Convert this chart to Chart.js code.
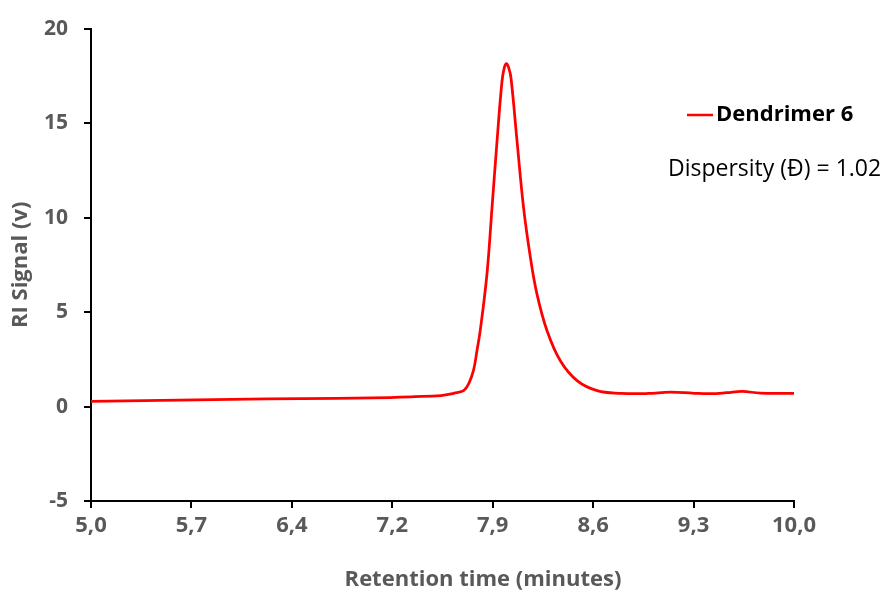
<!DOCTYPE html>
<html>
<head>
<meta charset="utf-8">
<script src="https://cdn.jsdelivr.net/npm/chart.js@4.4.1/dist/chart.umd.min.js"></script>
<style>
  html, body { margin: 0; padding: 0; background: #fff; }
  #wrap { width: 887px; height: 592px; }
</style>
</head>
<body>
<div id="wrap"><canvas id="chart" width="887" height="592"></canvas></div>
<script>
// GPC trace
const retentionTime = [5.0, 5.5, 6.0, 6.5, 7.0, 7.3, 7.49, 7.58, 7.65, 7.685, 7.72, 7.745, 7.768, 7.816,
  7.852, 7.888, 7.923, 7.94, 7.955, 7.97, 7.987, 8.03, 8.077, 8.125, 8.172, 8.244, 8.338, 8.457,
  8.6, 8.77, 8.96, 9.12, 9.29, 9.41, 9.52, 9.63, 9.76, 10.0];
const riSignal = [0.27, 0.33, 0.38, 0.42, 0.46, 0.52, 0.58, 0.7, 0.84, 1.19, 1.9, 2.95, 4.0, 7.0,
  10.5, 14.06, 17.2, 17.95, 18.15, 17.95, 17.4, 14.06, 10.5, 7.9, 5.95, 4.0, 2.42, 1.37,
  0.84, 0.7, 0.69, 0.76, 0.7, 0.68, 0.73, 0.8, 0.71, 0.7];

const xTickLabels = ["5,0", "5,7", "6,4", "7,2", "7,9", "8,6", "9,3", "10,0"];
const seriesName = "Dendrimer 6";
const note = "Dispersity (Đ) = 1.02";
const xTitle = "Retention time (minutes)";

const FONT = "'Open Sans', sans-serif";
const GREY = "#595959";

const xMin = 5, xMax = 10;

// legend, note and x title are drawn by hand, placed like the original
const labelsPlugin = {
  id: "insideLegend",
  afterDraw(chart) {
    const ctx = chart.ctx;
    ctx.save();
    ctx.strokeStyle = "#ff0000";
    ctx.lineWidth = 2.5;
    ctx.beginPath();
    ctx.moveTo(687, 115);
    ctx.lineTo(713, 115);
    ctx.stroke();
    ctx.fillStyle = "#000";
    ctx.textBaseline = "middle";
    ctx.font = "bold 22px " + FONT;
    ctx.fillText(seriesName, 716, 115);
    ctx.font = "23px " + FONT;
    ctx.fillText(note, 668, 169);

    ctx.fillStyle = GREY;
    ctx.font = "bold 22px " + FONT;
    ctx.textAlign = "center";
    ctx.fillText(xTitle, 483, 580);
    ctx.restore();
  }
};

new Chart(document.getElementById("chart"), {
  type: "line",
  data: {
    datasets: [{
      label: seriesName,
      data: retentionTime.map((t, i) => ({ x: t, y: riSignal[i] })),
      borderColor: "#ff0000",
      borderWidth: 2.75,
      pointRadius: 0,
      tension: 0.4,
      fill: false
    }]
  },
  options: {
    responsive: false,
    animation: false,
    layout: { padding: { top: 28, right: 93, left: 0, bottom: 0 } },
    plugins: { legend: { display: false }, tooltip: { enabled: false } },
    scales: {
      x: {
        type: "linear",
        min: xMin,
        max: xMax,
        afterBuildTicks(scale) {
          scale.ticks = xTickLabels.map((l, i) => ({ value: xMin + i * (xMax - xMin) / (xTickLabels.length - 1) }));
        },
        afterFit(scale) { scale.height = 91; },
        ticks: {
          color: GREY,
          font: { family: FONT, size: 22, weight: "bold" },
          padding: 5,
          maxRotation: 0,
          callback: (v, i) => xTickLabels[i]
        },
        grid: { drawOnChartArea: false, drawTicks: true, tickLength: 7, color: "#000", lineWidth: 2 },
        border: { color: "#000", width: 2 }
      },
      y: {
        min: -5,
        max: 20,
        ticks: {
          stepSize: 5,
          color: GREY,
          font: { family: FONT, size: 21, weight: "bold" },
          padding: 16
        },
        afterFit(scale) { scale.width = 91; },
        grid: { drawOnChartArea: false, drawTicks: true, tickLength: 7, color: "#000", lineWidth: 2 },
        border: { color: "#000", width: 2 },
        title: {
          display: true,
          text: "RI Signal (v)",
          color: GREY,
          font: { family: FONT, size: 22, weight: "bold" },
          padding: { top: 8, bottom: 0 }
        }
      }
    }
  },
  plugins: [labelsPlugin]
});
</script>
</body>
</html>
